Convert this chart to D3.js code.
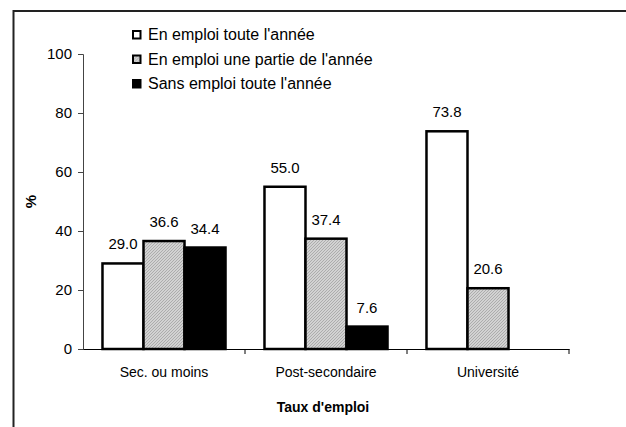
<!DOCTYPE html>
<html>
<head>
<meta charset="utf-8">
<script src="https://cdn.jsdelivr.net/npm/d3@7"></script>
<style>
  body { margin: 0; background: #fff; }
  svg { display: block; font-family: Arial, "Liberation Sans", sans-serif; }
</style>
</head>
<body>
<div id="chart"></div>
<script>
// data
const categories = ['Sec. ou moins', 'Post-secondaire', 'Université'];
const series = ["En emploi toute l'année", "En emploi une partie de l'année", "Sans emploi toute l'année"];
const touteAnnee = [29.0, 55.0, 73.8];
const partieAnnee = [36.6, 37.4, 20.6];
const sansEmploi = [34.4, 7.6, null];
const yTicks = [0, 20, 40, 60, 80, 100];

const values = [touteAnnee, partieAnnee, sansEmploi];
const fills = ['#fff', 'url(#hatch)', '#000'];

const width = 626;
const height = 427;
const plot = {left: 83, right: 569, top: 54, bottom: 349};
const FONT = 'Arial, "Liberation Sans", sans-serif';

const svg = d3.select('#chart')
    .append('svg')
    .attr('width', width)
    .attr('height', height);

// hatched grey fill like the old spreadsheet pattern
const defs = svg.append('defs');
const pat = defs.append('pattern')
    .attr('id', 'hatch')
    .attr('patternUnits', 'userSpaceOnUse')
    .attr('width', 3)
    .attr('height', 3);
pat.append('rect').attr('width', 3).attr('height', 3).attr('fill', '#d2d2d2');
pat.append('path').attr('d', 'M0,3 L3,0').attr('stroke', '#a8a8a8').attr('stroke-width', 0.9);

// outer frame (runs off the right and bottom)
svg.append('rect')
    .attr('x', 13.5).attr('y', 11)
    .attr('width', 700).attr('height', 500)
    .attr('fill', 'none')
    .attr('stroke', '#222')
    .attr('stroke-width', 2);

const x0 = d3.scaleBand()
    .domain(categories)
    .range([plot.left, plot.right])
    .padding(0);

const x1 = d3.scaleBand()
    .domain(series)
    .range([0, x0.bandwidth()])
    .paddingInner(0)
    .paddingOuter(0.475);

const y = d3.scaleLinear()
    .domain([0, 100])
    .range([plot.bottom, plot.top]);

// y axis
const yAxis = svg.append('g')
    .attr('transform', `translate(${plot.left},0)`)
    .call(d3.axisLeft(y).tickValues(yTicks).tickSize(5).tickPadding(6).tickFormat(d3.format('d')));
yAxis.select('.domain').attr('stroke', '#444');
yAxis.selectAll('.tick line').attr('stroke', '#444');
yAxis.selectAll('text').attr('font-size', 15).attr('fill', '#000')
    .attr('font-family', FONT);

// bars
const groups = svg.append('g').selectAll('g')
    .data(categories)
    .join('g')
    .attr('transform', (d) => `translate(${x0(d)},0)`);

groups.each(function(cat, ci) {
    const g = d3.select(this);
    const rows = series.map((s, si) => ({s, si, v: values[si][ci]})).filter((d) => d.v != null);

    g.selectAll('rect')
        .data(rows)
        .join('rect')
        .attr('x', (d) => x1(d.s))
        .attr('y', (d) => y(d.v))
        .attr('width', x1.bandwidth())
        .attr('height', (d) => y(0) - y(d.v))
        .attr('fill', (d) => fills[d.si])
        .attr('stroke', '#000')
        .attr('stroke-width', 2.5);

    g.selectAll('text')
        .data(rows)
        .join('text')
        .attr('x', (d) => x1(d.s) + x1.bandwidth() / 2)
        .attr('y', (d) => y(d.v) - 14)
        .attr('text-anchor', 'middle')
        .attr('font-size', 15)
        .text((d) => d3.format('.1f')(d.v));
});

// x axis: baseline, ticks on the band edges, labels in the middle
const xAxis = svg.append('g')
    .attr('transform', `translate(0,${plot.bottom})`);
xAxis.call(d3.axisBottom(x0).tickSize(0).tickPadding(18));
xAxis.select('.domain').attr('stroke', '#000');
xAxis.selectAll('text').attr('font-size', 14).attr('fill', '#000')
    .attr('font-family', FONT);
xAxis.selectAll('line.edge')
    .data(categories)
    .join('line')
    .attr('class', 'edge')
    .attr('x1', (d) => x0(d) + x0.bandwidth())
    .attr('x2', (d) => x0(d) + x0.bandwidth())
    .attr('y1', 0)
    .attr('y2', 5)
    .attr('stroke', '#000');

// axis titles
svg.append('text')
    .attr('transform', `translate(36,${(plot.top + plot.bottom) / 2}) rotate(-90)`)
    .attr('text-anchor', 'middle')
    .attr('font-size', 15)
    .attr('font-weight', 'bold')
    .text('%');

svg.append('text')
    .attr('x', 323)
    .attr('y', 412)
    .attr('text-anchor', 'middle')
    .attr('font-size', 14)
    .attr('font-weight', 'bold')
    .text("Taux d'emploi");

// legend
const legend = svg.append('g')
    .selectAll('g')
    .data(series)
    .join('g')
    .attr('transform', (d, i) => `translate(132,${40 + i * 24.5})`);

legend.append('rect')
    .attr('x', 1)
    .attr('y', -9)
    .attr('width', 7.5)
    .attr('height', 7.5)
    .attr('fill', (d, i) => fills[i])
    .attr('stroke', '#000')
    .attr('stroke-width', 2);

legend.append('text')
    .attr('x', 16)
    .attr('y', 0)
    .attr('font-size', 16)
    .text((d) => d);
</script>
</body>
</html>
